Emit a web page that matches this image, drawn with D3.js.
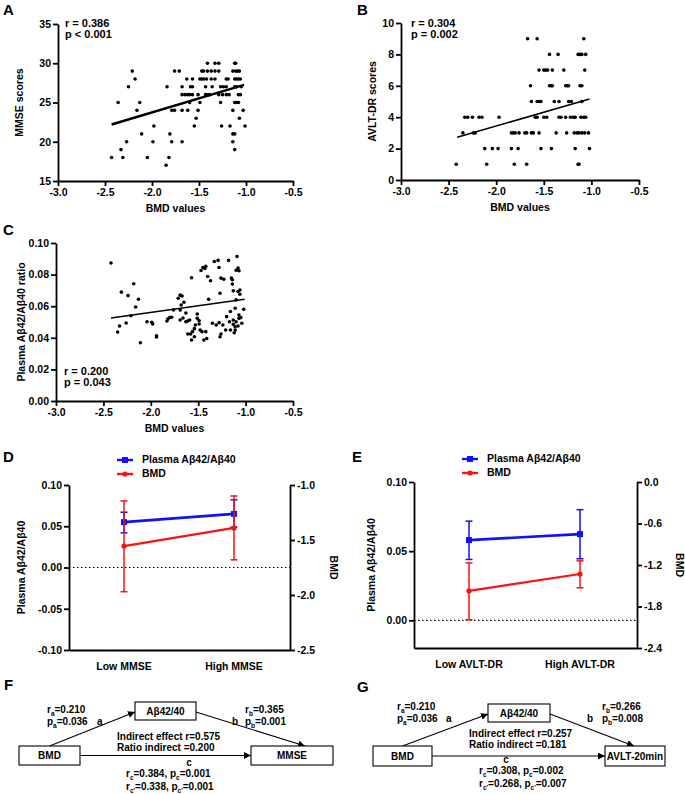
<!DOCTYPE html>
<html><head><meta charset="utf-8">
<script src="https://cdn.jsdelivr.net/npm/d3@7"></script>
<style>
body{margin:0;background:#fff}
svg text{font-family:"Liberation Sans",Arial,sans-serif;font-weight:bold;fill:#000}
</style></head><body>
<svg id="c" width="685" height="794"></svg>
<script>
// ---------- DATA ----------
const bmdTicks = [-3.0,-2.5,-2.0,-1.5,-1.0,-0.5];
const mmseTicks = [15,20,25,30,35];
const avltTicks = [0,2,4,6,8,10];
const ratioTicks = [0,0.02,0.04,0.06,0.08,0.10];

// Panel A: rows of [MMSE score, BMD values]
const mmseRows = [
 [30,[-1.41,-1.33,-1.29,-1.12,-1.11]],
 [29,[-2.21,-1.76,-1.71,-1.47,-1.45,-1.41,-1.37,-1.33,-1.29,-1.14,-1.11,-1.09,-1.07]],
 [28,[-2.18,-1.63,-1.57,-1.49,-1.47,-1.45,-1.42,-1.37,-1.33,-1.21,-1.19,-1.12,-1.10,-1.08,-1.06]],
 [27,[-2.25,-1.84,-1.68,-1.59,-1.57,-1.43,-1.36,-1.27,-1.24,-1.21,-1.12,-1.10,-1.05]],
 [26,[-1.68,-1.65,-1.62,-1.60,-1.57,-1.51,-1.43,-1.42,-1.39,-1.29,-1.25,-1.21,-1.18,-1.08,-1.06]],
 [25,[-2.36,-2.13,-1.60,-1.49,-1.27,-1.12,-1.10,-1.08]],
 [24,[-2.16,-1.79,-1.76,-1.68,-1.62,-1.51,-1.14,-1.03]],
 [23,[-1.53,-1.07]],
 [22,[-1.98,-1.55,-1.26,-1.17,-1.01]],
 [21,[-2.11,-1.81,-1.14,-1.12]],
 [20,[-2.27,-1.99,-1.79,-1.68,-1.14]],
 [19,[-2.33,-1.12]],
 [18,[-2.43,-2.31,-2.05,-1.82]],
 [17,[-1.85]]
];
const fitA = [[-2.43,22.2],[-1.02,27.25]];

// Panel B: rows of [AVLT-DR score, BMD values]
const avltRows = [
 [9,[-1.67,-1.57,-1.08]],
 [8,[-1.44,-1.35,-1.14,-1.12,-1.10,-1.06]],
 [7,[-1.55,-1.50,-1.48,-1.46,-1.41,-1.29,-1.07]],
 [6,[-1.64,-1.44,-1.42,-1.41,-1.27,-1.25,-1.24,-1.12,-1.10]],
 [5,[-1.63,-1.57,-1.55,-1.53,-1.39,-1.34,-1.24,-1.21,-1.10]],
 [4,[-2.33,-2.30,-2.25,-2.18,-2.15,-1.97,-1.59,-1.57,-1.50,-1.47,-1.34,-1.32,-1.27,-1.22,-1.19,-1.17,-1.11,-1.08,-1.06]],
 [3,[-2.35,-2.24,-2.22,-1.84,-1.82,-1.80,-1.76,-1.70,-1.68,-1.63,-1.61,-1.55,-1.37,-1.26,-1.18,-1.15,-1.13,-1.10,-1.07,-1.03]],
 [2,[-2.12,-2.04,-1.98,-1.84,-1.77,-1.53,-1.42,-1.17,-1.02]],
 [1,[-2.42,-2.10,-1.81,-1.68,-1.14,-1.13]]
];
const fitB = [[-2.41,2.72],[-1.02,5.16]];

// Panel C: [BMD, plasma Aβ42/Aβ40 ratio]
const ratioPts = [
 [-2.42,0.0873],[-2.35,0.0436],[-2.33,0.0475],[-2.31,0.0689],[-2.26,0.0494],[-2.24,0.0667],[-2.21,0.0540],
 [-2.18,0.0742],[-2.16,0.0595],[-2.13,0.0644],[-2.11,0.0369],[-2.04,0.0502],[-1.99,0.0498],[-1.98,0.0487],
 [-1.94,0.0413],[-1.94,0.0405],[-1.83,0.0506],[-1.82,0.0519],[-1.80,0.0528],[-1.78,0.0530],[-1.76,0.0576],
 [-1.71,0.0650],[-1.69,0.0670],[-1.67,0.0665],[-1.68,0.0608],[-1.65,0.0625],[-1.69,0.0513],[-1.66,0.0525],
 [-1.63,0.0502],[-1.63,0.0557],[-1.61,0.0506],[-1.59,0.0513],[-1.57,0.0780],[-1.61,0.0424],[-1.58,0.0424],
 [-1.57,0.0386],[-1.56,0.0439],[-1.54,0.0458],[-1.53,0.0481],[-1.51,0.0551],[-1.51,0.0523],[-1.49,0.0508],
 [-1.49,0.0487],[-1.48,0.0449],[-1.54,0.0407],[-1.47,0.0826],[-1.45,0.0845],[-1.43,0.0839],[-1.42,0.0852],
 [-1.46,0.0439],[-1.44,0.0386],[-1.42,0.0439],[-1.40,0.0788],[-1.39,0.0644],[-1.37,0.0761],[-1.35,0.0492],
 [-1.33,0.0883],[-1.29,0.0890],[-1.28,0.0845],[-1.28,0.0496],[-1.27,0.0407],[-1.26,0.0424],[-1.27,0.0682],
 [-1.26,0.0778],[-1.23,0.0771],[-1.21,0.0449],[-1.20,0.0534],[-1.18,0.0890],[-1.17,0.0502],[-1.16,0.0566],
 [-1.15,0.0778],[-1.14,0.0767],[-1.14,0.0740],[-1.13,0.0697],[-1.13,0.0513],[-1.13,0.0485],[-1.12,0.0432],
 [-1.11,0.0470],[-1.11,0.0587],[-1.10,0.0640],[-1.10,0.0828],[-1.09,0.0915],[-1.08,0.0841],[-1.08,0.0693],
 [-1.07,0.0824],[-1.07,0.0523],[-1.06,0.0676],[-1.06,0.0703],[-1.08,0.0475],[-1.07,0.0544],[-1.05,0.0528],
 [-1.04,0.0492],[-1.10,0.0502],[-1.02,0.0580],[-1.11,0.0449],[-1.16,0.0449],[-1.24,0.0481],[-1.31,0.0481],
 [-1.41,0.0396],[-1.69,0.0576]
];
const fitC = [[-2.42,0.0525],[-1.01,0.0644]];

// Panel D (MMSE groups)
const groupsD = ["Low MMSE","High MMSE"];
const abD = [{m:0.055,lo:0.042,hi:0.067},{m:0.065,lo:0.049,hi:0.082}];
const bmdD = [{m:-1.555,lo:-1.97,hi:-1.145},{m:-1.39,lo:-1.68,hi:-1.10}];
const leftTicksD = [-0.10,-0.05,0,0.05,0.10];
const rightTicksD = [-2.5,-2.0,-1.5,-1.0];

// Panel E (AVLT-DR groups)
const groupsE = ["Low AVLT-DR","High AVLT-DR"];
const abE = [{m:0.058,lo:0.044,hi:0.0717},{m:0.0623,lo:0.0445,hi:0.080}];
const bmdE = [{m:-1.575,lo:-1.99,hi:-1.17},{m:-1.33,lo:-1.53,hi:-1.14}];
const leftTicksE = [0,0.05,0.10];
const rightTicksE = [-2.4,-1.8,-1.2,-0.6,0];

// ---------- DRAW ----------
const svg = d3.select('#c');
const FS = '10.5px';
const defs = svg.append('defs');
defs.append('marker').attr('id','arr').attr('viewBox','0 0 8 8').attr('refX',8).attr('refY',4)
  .attr('markerWidth',7).attr('markerHeight',7).attr('markerUnits','userSpaceOnUse').attr('orient','auto')
  .append('path').attr('d','M0,0 L8,4 L0,8 z').attr('fill','#000');

function styleAxis(g){
  g.select('.domain').attr('stroke','#000').attr('stroke-width',1.8);
  g.selectAll('.tick line').attr('stroke','#000').attr('stroke-width',1.8);
  g.selectAll('text').style('font-size',FS);
}
function letter(t,x,y){ svg.append('text').attr('x',x).attr('y',y).style('font-size','15px').text(t); }
function vLabel(t,x,y,rot){
  svg.append('text').attr('transform',`translate(${x},${y}) rotate(${rot})`).attr('text-anchor','middle')
   .attr('dominant-baseline','middle').style('font-size',FS).text(t);
}

function scatter(c){
  const x = d3.scaleLinear().domain([-3,-0.5]).range([c.left,c.right]);
  const y = d3.scaleLinear().domain(c.yDomain).range([c.bottom,c.top]);
  const g = svg.append('g');
  g.selectAll('circle').data(c.pts).join('circle').attr('cx',d=>x(d[0])).attr('cy',d=>y(d[1])).attr('r',1.8).attr('fill','#000');
  g.append('line').attr('x1',x(c.fit[0][0])).attr('y1',y(c.fit[0][1])).attr('x2',x(c.fit[1][0])).attr('y2',y(c.fit[1][1]))
    .attr('stroke','#000').attr('stroke-width',c.fitW);
  g.append('g').attr('transform',`translate(0,${c.bottom})`)
    .call(d3.axisBottom(x).tickValues(bmdTicks).tickFormat(d=>d.toFixed(1)).tickSize(5).tickSizeOuter(0).tickPadding(3)).call(styleAxis);
  g.append('g').attr('transform',`translate(${c.left},0)`)
    .call(d3.axisLeft(y).tickValues(c.yTicks).tickFormat(c.fmt).tickSize(5).tickSizeOuter(0).tickPadding(2)).call(styleAxis);
  g.append('text').attr('x',(c.left+c.right)/2).attr('y',c.bottom+31).attr('text-anchor','middle').style('font-size',FS).text('BMD values');
  vLabel(c.yLabel,c.yLabelX,(c.top+c.bottom)/2,-90);
  c.stats.forEach((s,i)=>g.append('text').attr('x',c.statX).attr('y',c.statY+i*11).style('font-size','11px').text(s));
}

scatter({left:58,right:293,top:24,bottom:181,yDomain:[15,35],yTicks:mmseTicks,fmt:d=>d,
  pts:mmseRows.flatMap(r=>r[1].map(b=>[b,r[0]])),fit:fitA,fitW:2.4,
  yLabel:'MMSE scores',yLabelX:20,stats:['r = 0.386','p < 0.001'],statX:65,statY:26.5});
letter('A',3,15);

scatter({left:401,right:639,top:23,bottom:180,yDomain:[0,10],yTicks:avltTicks,fmt:d=>d,
  pts:avltRows.flatMap(r=>r[1].map(b=>[b,r[0]])),fit:fitB,fitW:1.6,
  yLabel:'AVLT-DR scores',yLabelX:373,stats:['r = 0.304','p = 0.002'],statX:411,statY:27});
letter('B',357,15);

scatter({left:56,right:293,top:243,bottom:401,yDomain:[0,0.10],yTicks:ratioTicks,fmt:d=>d.toFixed(2),
  pts:ratioPts,fit:fitC,fitW:1.6,
  yLabel:'Plasma Aβ42/Aβ40 ratio',yLabelX:22,stats:['r = 0.200','p = 0.043'],statX:64,statY:375});
letter('C',3,235);

function dual(c){
  const g = svg.append('g');
  const yL = d3.scaleLinear().domain(c.lDomain).range([c.bottom,c.top]);
  const yR = d3.scaleLinear().domain(c.rDomain).range([c.bottom,c.top]);
  const xp = d3.scalePoint().domain(c.groups).range(c.ptRange);
  // zero dotted line
  g.append('line').attr('x1',c.left).attr('x2',c.right).attr('y1',yL(0)).attr('y2',yL(0))
    .attr('stroke','#000').attr('stroke-width',1.2).attr('stroke-dasharray','1.5,2.5');
  const series = [{d:c.ab,s:yL,col:'#1010ff',w:2.6,mk:'sq'},{d:c.bmd,s:yR,col:'#ff1010',w:2.2,mk:'ci'}];
  series.forEach(se=>{
    const sg = g.append('g');
    se.d.forEach((v,i)=>{
      const X = xp(c.groups[i]);
      sg.append('line').attr('x1',X).attr('x2',X).attr('y1',se.s(v.lo)).attr('y2',se.s(v.hi)).attr('stroke',se.col).attr('stroke-width',1.5);
      [v.lo,v.hi].forEach(e=>sg.append('line').attr('x1',X-3.5).attr('x2',X+3.5).attr('y1',se.s(e)).attr('y2',se.s(e)).attr('stroke',se.col).attr('stroke-width',1.5));
    });
    sg.append('path').attr('d',d3.line().x((v,i)=>xp(c.groups[i])).y(v=>se.s(v.m))(se.d)).attr('fill','none').attr('stroke',se.col).attr('stroke-width',se.w);
    se.d.forEach((v,i)=>{
      const X = xp(c.groups[i]);
      if(se.mk==='sq') sg.append('rect').attr('x',X-3).attr('y',se.s(v.m)-3).attr('width',6).attr('height',6).attr('fill',se.col);
      else sg.append('circle').attr('cx',X).attr('cy',se.s(v.m)).attr('r',2.6).attr('fill',se.col);
    });
  });
  g.append('g').attr('transform',`translate(${c.left},0)`)
    .call(d3.axisLeft(yL).tickValues(c.lTicks).tickFormat(d=>d.toFixed(2)).tickSize(5).tickSizeOuter(0).tickPadding(2)).call(styleAxis);
  g.append('g').attr('transform',`translate(${c.right},0)`)
    .call(d3.axisRight(yR).tickValues(c.rTicks).tickFormat(d=>d.toFixed(1)).tickSize(5).tickSizeOuter(0).tickPadding(2)).call(styleAxis);
  const xb = d3.scaleLinear().domain([0,1]).range([c.left,c.right]);
  g.append('g').attr('transform',`translate(0,${c.bottom})`).call(d3.axisBottom(xb).tickValues([]).tickSizeOuter(0)).call(styleAxis);
  c.groups.forEach(gr=>g.append('text').attr('x',xp(gr)).attr('y',c.bottom+20).attr('text-anchor','middle').style('font-size',FS).text(gr));
  vLabel('Plasma Aβ42/Aβ40',c.lLabelX,(c.top+c.bottom)/2,-90);
  vLabel('BMD',c.rLabelX,(c.top+c.bottom)/2,90);
  // legend
  const lg = g.append('g');
  [['Plasma Aβ42/Aβ40','#1010ff','sq',0],['BMD','#ff1010','ci',14]].forEach(([t,col,mk,dy])=>{
    const yy = c.legY+dy;
    lg.append('line').attr('x1',c.legX).attr('x2',c.legX+16).attr('y1',yy).attr('y2',yy).attr('stroke',col).attr('stroke-width',2.4);
    if(mk==='sq') lg.append('rect').attr('x',c.legX+5).attr('y',yy-3).attr('width',6).attr('height',6).attr('fill',col);
    else lg.append('circle').attr('cx',c.legX+8).attr('cy',yy).attr('r',2.6).attr('fill',col);
    lg.append('text').attr('x',c.legX+25).attr('y',yy).attr('dominant-baseline','middle').style('font-size',FS).text(t);
  });
}

dual({left:69,right:290,top:485,bottom:650,lDomain:[-0.10,0.10],rDomain:[-2.5,-1.0],
  groups:groupsD,ptRange:[124,234],ab:abD,bmd:bmdD,lTicks:leftTicksD,rTicks:rightTicksD,
  lLabelX:22,rLabelX:333,legX:117,legY:460});
letter('D',3,462);

dual({left:414,right:637,top:482,bottom:648,lDomain:[-0.02,0.10],rDomain:[-2.4,0],
  groups:groupsE,ptRange:[469,580],ab:abE,bmd:bmdE,lTicks:leftTicksE,rTicks:rightTicksE,
  lLabelX:372,rLabelX:679,legX:462,legY:459});
letter('E',352,462);

// ---------- mediation diagrams ----------
function rich(g,x,y,s,anchor){
  const t = g.append('text').attr('x',x).attr('y',y).attr('text-anchor',anchor||'start').style('font-size','10px');
  let prevSub=false;
  s.split(/(_\{[^}]*\})/).forEach(p=>{
    if(!p) return;
    if(p.startsWith('_{')){ t.append('tspan').attr('dy',prevSub?0:2.5).style('font-size','6.5px').text(p.slice(2,-1)); prevSub=true; }
    else { const ts=t.append('tspan').text(p); if(prevSub) ts.attr('dy',-2.5); prevSub=false; }
  });
}
function box(g,x0,y0,x1,y1,label){
  g.append('rect').attr('x',x0).attr('y',y0).attr('width',x1-x0).attr('height',y1-y0).attr('fill','#fff').attr('stroke','#000').attr('stroke-width',1.1);
  g.append('text').attr('x',(x0+x1)/2).attr('y',(y0+y1)/2).attr('text-anchor','middle').attr('dominant-baseline','central').style('font-size','10px').text(label);
}
function arrow(g,x1,y1,x2,y2){
  g.append('line').attr('x1',x1).attr('y1',y1).attr('x2',x2).attr('y2',y2).attr('stroke','#000').attr('stroke-width',1.1).attr('marker-end','url(#arr)');
}
function mediation(c){
  const g = svg.append('g');
  const [ax0,ay0,ax1,ay1]=c.abBox,[bx0,by0,bx1,by1]=c.bmdBox,[ox0,oy0,ox1,oy1]=c.outBox;
  arrow(g,(bx0+bx1)/2,by0,ax0,(ay0+ay1)/2+1);
  arrow(g,ax1,(ay0+ay1)/2+1,c.bEnd,oy0);
  arrow(g,bx1,(by0+by1)/2,ox0,(oy0+oy1)/2);
  box(g,...c.abBox,'Aβ42/40'); box(g,...c.bmdBox,'BMD'); box(g,...c.outBox,c.out);
  rich(g,c.raX,c.rY,'r_{a}='+c.ra); rich(g,c.raX,c.rY+12,'p_{a}='+c.pa); rich(g,c.aX,c.rY+12,'a');
  rich(g,c.rbX,c.rY,'r_{b}='+c.rb); rich(g,c.rbX,c.rY+12,'p_{b}='+c.pb); rich(g,c.bX,c.rY+12,'b');
  rich(g,c.indX,c.indY,'Indirect effect r='+c.ind); rich(g,c.indX,c.indY+11,'Ratio indirect ='+c.ratio);
  rich(g,c.cX,c.cY,'c','middle');
  rich(g,c.rcX,c.cY+11,'r_{c}='+c.rc+', p_{c}='+c.pc); rich(g,c.rcX,c.cY+24,"r_{c'}="+c.rc2+", p_{c'}="+c.pc2);
}
mediation({abBox:[135,702,196,720],bmdBox:[19,746,80,765],outBox:[251,746,333,765],out:'MMSE',bEnd:305,
  raX:47,rY:713,aX:97,rbX:245,bX:232,ra:'0.210',pa:'0.036',rb:'0.365',pb:'0.001',
  indX:117,indY:740,ind:'0.575',ratio:'0.200',cX:189,cY:766,rcX:126,rc:'0.384',pc:'0.001',rc2:'0.338',pc2:'0.001'});
letter('F',4,690);
mediation({abBox:[488,704,550,722],bmdBox:[373,746,432,766],outBox:[605,746,665,766],out:'AVLT-20min',bEnd:634,
  raX:397,rY:710,aX:446,rbX:602,bX:587,ra:'0.210',pa:'0.036',rb:'0.266',pb:'0.008',
  indX:469,indY:737,ind:'0.257',ratio:'0.181',cX:506,cY:763,rcX:479,rc:'0.308',pc:'0.002',rc2:'0.268',pc2:'0.007'});
letter('G',357,692);
</script>
</body></html>
